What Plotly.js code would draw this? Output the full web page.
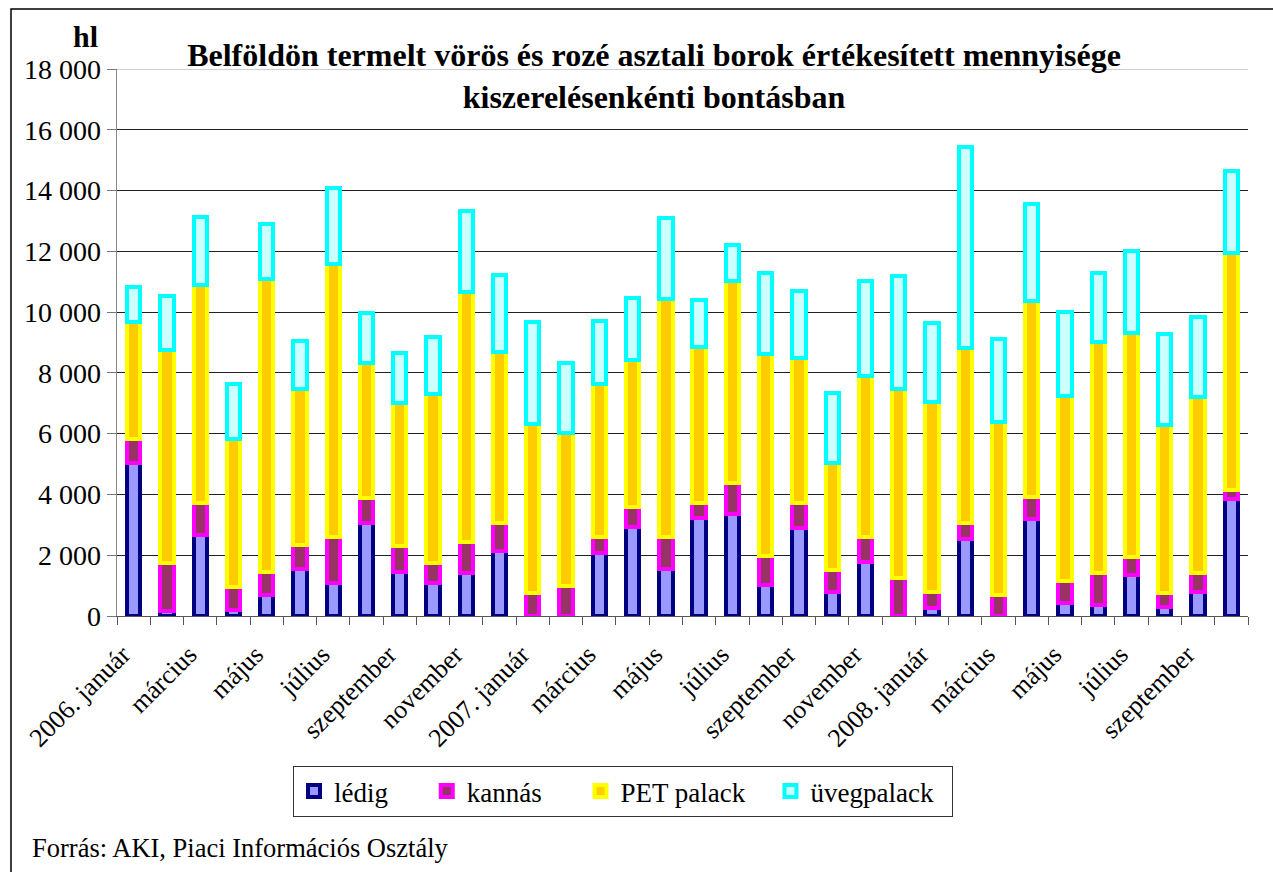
<!DOCTYPE html>
<html><head><meta charset="utf-8">
<script src="https://cdn.plot.ly/plotly-3.0.1.min.js"></script>
<style>html,body{margin:0;padding:0;background:#fff}#chart{width:1273px;height:872px}</style>
</head><body><div id="chart"></div>
<script>
const months = [
 "2006. január","2006. február","2006. március","2006. április","2006. május","2006. június",
 "2006. július","2006. augusztus","2006. szeptember","2006. október","2006. november","2006. december",
 "2007. január","2007. február","2007. március","2007. április","2007. május","2007. június",
 "2007. július","2007. augusztus","2007. szeptember","2007. október","2007. november","2007. december",
 "2008. január","2008. február","2008. március","2008. április","2008. május","2008. június",
 "2008. július","2008. augusztus","2008. szeptember","2008. október"
];
const tickLabels = [
 "2006. január","","március","","május","","július","","szeptember","","november","",
 "2007. január","","március","","május","","július","","szeptember","","november","",
 "2008. január","","március","","május","","július","","szeptember",""
];
const ledig      = [5030,175,2665,200,690,1550,1075,3050,1440,1100,1405,2150,0,0,2085,2920,1535,3215,3355,1010,2910,800,1790,0,250,2520,0,3190,415,360,1350,305,800,3840];
const kannas     = [790,1575,1055,765,770,790,1535,820,875,635,1020,920,745,990,525,655,1075,495,1035,965,820,715,800,1240,550,550,690,735,750,1045,605,465,625,305];
const petPalack  = [3850,7000,7170,4845,9630,5120,8960,4470,4685,5570,8225,5630,5575,5020,5020,4850,7810,5130,6645,6645,4750,3510,5310,6220,6250,5740,5705,6440,6075,7620,7370,5515,5790,7810];
const uvegpalack = [1160,1780,2240,1810,1810,1600,2500,1620,1665,1885,2680,2520,3365,2305,2090,2025,2680,1560,1175,2655,2215,2325,3135,3730,2600,6635,2730,3195,2775,2250,2695,2995,2615,2700];
const yTickVals = [0,2000,4000,6000,8000,10000,12000,14000,16000,18000];
const yTickText = ["0","2 000","4 000","6 000","8 000","10 000","12 000","14 000","16 000","18 000"];
const seriesNames = ["lédig","kannás","PET palack","üvegpalack"];

const FONT = "Liberation Serif";
const W = 1273, H = 872, L = 117, R = 1248, T = 69, B = 616;
const px = x => (x - L) / (R - L);
const py = y => (B - y) / (B - T);
const pad = n => "\u00a0".repeat(n);

function seg(name, legendName, vals, fill, line) {
  return {type:"bar", name:legendName, x:months, y:vals, width:0.4,
    marker:{color:fill, line:{color:line, width:4}},
    hovertemplate:"%{x}<br>" + name + ": %{y}<extra></extra>"};
}
const data = [
  seg(seriesNames[0], seriesNames[0] + pad(5), ledig, "#9999FF", "#000080"),
  seg(seriesNames[1], seriesNames[1] + pad(5), kannas, "#993366", "#FF00FF"),
  seg(seriesNames[2], seriesNames[2] + pad(3), petPalack, "#FFCC00", "#FFFF00"),
  seg(seriesNames[3], seriesNames[3] + pad(2), uvegpalack, "#CCFFFF", "#00FFFF")
];

const layout = {
  width:W, height:H, paper_bgcolor:"#fff", plot_bgcolor:"#fff",
  margin:{l:L, r:W-R, t:T, b:H-B, pad:0},
  barmode:"stack",
  font:{family:FONT, color:"#000", size:27},
  title:{text:"<b>Belföldön termelt vörös és rozé asztali borok értékesített mennyisége<br>kiszerelésenkénti bontásban</b>",
    font:{family:FONT, size:32, color:"#000"},
    xref:"container", yref:"container", x:654/W, xanchor:"center", y:1-66/H, yanchor:"top"},
  xaxis:{type:"category", tickmode:"array", tickvals:months, ticktext:tickLabels,
    tickson:"boundaries", ticks:"outside", ticklen:8, tickcolor:"#555", tickwidth:1,
    tickangle:-45, tickfont:{family:FONT, size:26, color:"#000"},
    ticklabelstandoff:12, ticklabelshift:-11,
    showline:true, linecolor:"#555", linewidth:1, showgrid:false, zeroline:false,
    range:[-0.5, months.length-0.5], fixedrange:true},
  yaxis:{range:[0,18000], tickmode:"array", tickvals:yTickVals, ticktext:yTickText,
    ticks:"outside", ticklen:9, tickcolor:"#777", tickwidth:1,
    tickfont:{family:FONT, size:28, color:"#000"},
    showline:true, linecolor:"#888", linewidth:1.5,
    showgrid:true, gridcolor:"#222", gridwidth:1, zeroline:false, fixedrange:true},
  legend:{orientation:"h", x:px(623), xanchor:"center", y:py(766), yanchor:"top",
    font:{family:FONT, size:27, color:"#000"}, bordercolor:"#333", borderwidth:1,
    bgcolor:"#fff", traceorder:"normal"},
  shapes:[
    {type:"line", xref:"paper", yref:"y", x0:0, x1:1, y0:18000, y1:18000,
     line:{color:"#d0d0d0", width:2}, layer:"above"},
    {type:"rect", xref:"paper", yref:"paper", x0:px(11), x1:px(1300), y0:py(900), y1:py(9),
     line:{color:"#000", width:1.5}, fillcolor:"rgba(0,0,0,0)"}
  ],
  annotations:[
    {text:"<b>hl</b>", xref:"paper", yref:"paper", x:px(85), y:py(36), xanchor:"center", yanchor:"middle",
     showarrow:false, font:{family:FONT, size:30, color:"#000"}},
    {text:"Forrás: AKI, Piaci Információs Osztály", xref:"paper", yref:"paper", x:px(30), y:py(848),
     xanchor:"left", yanchor:"middle", showarrow:false, font:{family:FONT, size:26.5, color:"#000"}}
  ]
};
Plotly.newPlot("chart", data, layout, {displayModeBar:false, staticPlot:true});
</script></body></html>
